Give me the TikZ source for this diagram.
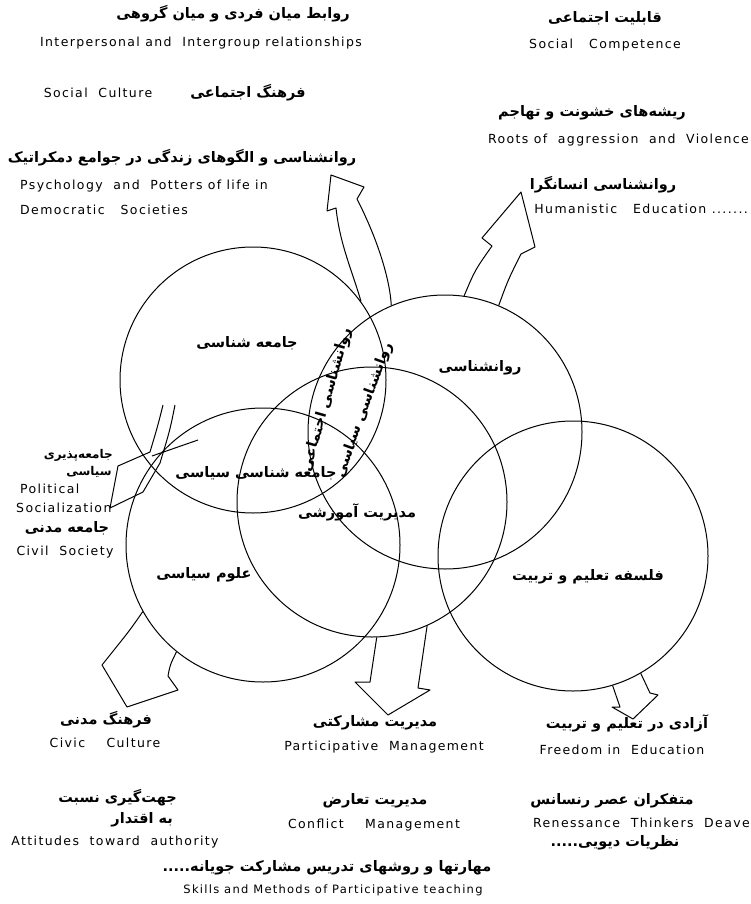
\documentclass[tikz,border=0pt]{standalone}
\usepackage{fontspec}
\setmainfont{DejaVu Sans}
\newfontfamily\fafont[Script=Arabic]{DejaVu Sans}
\newfontfamily\enfont[LetterSpace=11]{DejaVu Sans}
\TeXXeTstate=1
\newcommand{\rtl}[1]{\beginR #1\endR}
\tikzstyle{field} = [circle, draw=black, line width=1pt, inner sep=0pt]
\tikzstyle{fa} = [font=\fafont\bfseries\fontsize{14.5}{17}\selectfont, inner sep=0pt]
\tikzstyle{fasmall} = [font=\fafont\bfseries\fontsize{12}{14}\selectfont, inner sep=0pt]
\tikzstyle{en} = [font=\enfont\fontsize{12.5}{15}\selectfont, inner sep=0pt]
\tikzstyle{blockarrow} = [line width=1pt, line join=round]
\begin{document}
\begin{tikzpicture}[x=1pt, y=-1pt]
\useasboundingbox (0,0) rectangle (751,904);
% fields
\node[field, minimum size=266pt] (soc) at (253,380) {};
\node[field, minimum size=274pt] (psy) at (445,432) {};
\node[field, minimum size=270pt] (edm) at (372,502) {};
\node[field, minimum size=274pt] (pol) at (263,545) {};
\node[field, minimum size=270pt] (phi) at (573,556) {};
% top labels
\node[fa] (lRel) at (233,14) {\rtl{روابط میان فردی و میان گروهی}};
\node[en] (eRel) at (201,43) {Interpersonal\ and\ \ Intergroup relationships};
\node[fa] (lCom) at (605,18) {\rtl{قابلیت اجتماعی}};
\node[en] (eCom) at (605,45) {Social\ \ \ Competence};
\node[en] (eCul) at (98,93) {Social\ \ Culture};
\node[fa] (lCul) at (248,93) {\rtl{فرهنگ اجتماعی}};
\node[fa] (lRoo) at (592,113) {\rtl{ریشه‌های خشونت و تهاجم}};
\node[en, anchor=east] (eRoo) at (749,140) {Roots\ of\ \ aggression\ \ and\ \ Violence};
\node[fa] (lDem) at (182,158) {\rtl{روانشناسی و الگوهای زندگی در جوامع دمکراتیک}};
\node[en, anchor=west] (eDem) at (20,186) {Psychology\ \ and\ \ Potters of life in};
\node[en, anchor=west] (eDem2) at (20,210) {Democratic\ \ \ Societies};
\node[fa] (lHum) at (603,185) {\rtl{روانشناسی انسانگرا}};
\node[en, anchor=east] (eHum) at (748,209) {Humanistic\ \ \ Education .......};
% field labels
\node[fa] (lSoc) at (247,343) {\rtl{جامعه شناسی}};
\node[fa] (lPsy) at (480,368) {\rtl{روانشناسی}};
\node[fa, rotate=74] (lSps) at (327,400) {\rtl{روانشناسی اجتماعی}};
\node[fa, rotate=70] (lPps) at (364,410) {\rtl{روانشناسی سیاسی}};
\node[fa] (lPso) at (256,473) {\rtl{جامعه شناسی سیاسی}};
\node[fa] (lEdm) at (357,512) {\rtl{مدیریت آموزشی}};
\node[fa] (lPol) at (204,575) {\rtl{علوم سیاسی}};
\node[fa] (lPhi) at (588,577) {\rtl{فلسفه تعلیم و تربیت}};
% left labels
\node[fasmall, anchor=east] (lSzn) at (113,455) {\rtl{جامعه‌پذیری}};
\node[fasmall] (lSzn2) at (89,472) {\rtl{سیاسی}};
\node[en, anchor=west] (eSzn) at (20,489) {Political};
\node[en, anchor=west] (eSzn2) at (16,508) {Socialization};
\node[fa] (lCiv) at (67,528) {\rtl{جامعه مدنی}};
\node[en] (eCiv) at (65,552) {Civil\ \ Society};
% bottom labels
\node[fa] (lCvc) at (106,720) {\rtl{فرهنگ مدنی}};
\node[en] (eCvc) at (105,743) {Civic\ \ \ \ Culture};
\node[fa] (lPar) at (375,723) {\rtl{مدیریت مشارکتی}};
\node[en] (ePar) at (384,747) {Participative\ \ Management};
\node[fa] (lFre) at (627,723) {\rtl{آزادی در تعلیم و تربیت}};
\node[en] (eFre) at (622,750) {Freedom in\ \ Education};
\node[fa, anchor=east] (lAtt) at (177,798) {\rtl{جهت‌گیری نسبت}};
\node[fa, anchor=east] (lAtt2) at (173,820) {\rtl{به اقتدار}};
\node[en] (eAtt) at (115,842) {Attitudes\ \ toward\ \ authority};
\node[fa] (lCon) at (375,801) {\rtl{مدیریت تعارض}};
\node[en] (eCon) at (374,825) {Conflict\ \ \ \ Management};
\node[fa] (lRen) at (612,801) {\rtl{متفکران عصر رنسانس}};
\node[en, anchor=east] (eRen) at (750,823) {Renessance\ \ Thinkers\ \ Deave};
\node[fa] (lDew) at (615,843) {\rtl{نظریات دیویی.....}};
\node[fa] (lSkl) at (327,868) {\rtl{مهارتها و روشهای تدریس مشارکت جویانه.....}};
\node[en, font=\enfont\fontsize{11.5}{14}\selectfont] (eSkl) at (333,890) {Skills and Methods of Participative teaching};
% block arrows
\draw[blockarrow] (pol.209) .. controls (130,630) .. (114,650) -- (102,665) -- (127,707) -- (178,690) -- (168,676) .. controls (170,665) .. (pol.231);
\draw[blockarrow] (edm.272) -- (370,682) -- (355,682) -- (388,715) -- (430,690) -- (418,688) -- (edm.294);
\draw[blockarrow] (phi.287) -- (620,707) -- (612,707) -- (633,719) -- (658,695) -- (650,693) -- (phi.300);
\draw[blockarrow] (psy.82) .. controls (475,270) .. (492,246) -- (482,238) -- (521,192) -- (535,247) -- (521,254) .. controls (508,280) .. (psy.67);
\draw[blockarrow] (soc.36) .. controls (352,270) and (340,245) .. (336,208) -- (327,211) -- (331,175) -- (364,187) -- (357,199) .. controls (378,240) and (390,280) .. (psy.113);
\draw[blockarrow] (163,405) .. controls (158,425) .. (150,452) -- (118,466) -- (110,508) -- (143,492) -- (160,463) .. controls (170,430) .. (175,405);
\draw[blockarrow] (152,456) -- (198,440);
\end{tikzpicture}
\end{document}
